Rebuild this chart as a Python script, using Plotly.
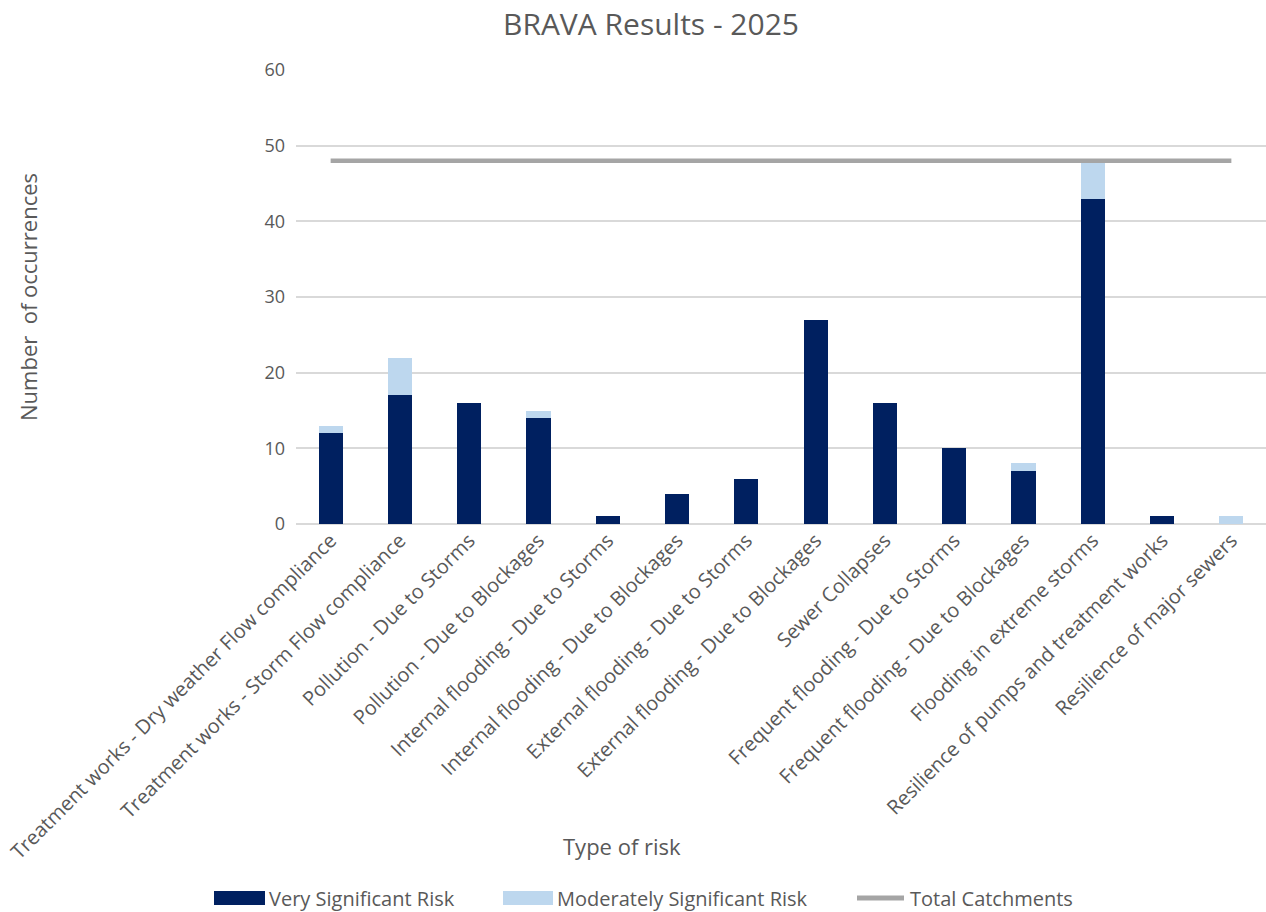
import plotly.graph_objects as go

categories = [
    "Treatment works - Dry weather Flow compliance",
    "Treatment works - Storm Flow compliance",
    "Pollution - Due to Storms",
    "Pollution - Due to Blockages",
    "Internal flooding - Due to Storms",
    "Internal flooding - Due to Blockages",
    "External flooding - Due to Storms",
    "External flooding - Due to Blockages",
    "Sewer Collapses",
    "Frequent flooding - Due to Storms",
    "Frequent flooding - Due to Blockages",
    "Flooding in extreme storms",
    "Resilience of pumps and treatment works",
    "Resilience of major sewers",
]
very_significant = [12, 17, 16, 14, 1, 4, 6, 27, 16, 10, 7, 43, 1, 0]
moderately_significant = [1, 5, 0, 1, 0, 0, 0, 0, 0, 0, 1, 5, 0, 1]
total_catchments = [48] * len(categories)

series_names = ["Very Significant Risk", "Moderately Significant Risk", "Total Catchments"]
series_colors = ["#002060", "#BDD7EE", "#A5A5A5"]

FONT = "Open Sans"
TXT = "#595959"

W, H = 1266, 912
L, T = 296, 70
PW, PH = 970, 454

fig = go.Figure()
fig.add_trace(go.Bar(x=categories, y=very_significant, name=series_names[0],
                     marker=dict(color=series_colors[0], line=dict(width=0)), width=0.35,
                     showlegend=False))
fig.add_trace(go.Bar(x=categories, y=moderately_significant, name=series_names[1],
                     marker=dict(color=series_colors[1], line=dict(width=0)), width=0.35,
                     showlegend=False))
fig.add_trace(go.Scatter(x=categories, y=total_catchments, name=series_names[2],
                         mode="lines", line=dict(color=series_colors[2], width=4.5),
                         showlegend=False))

def px_x(p):
    return (p - L) / PW

def px_y(p):
    return (T + PH - p) / PH

# custom legend (wide swatches like the original)
shapes = []
annotations = []
leg_y = 898
leg_items = [(214, 265, "rect"), (503, 553, "rect"), (855, 906, "line")]
for (x0, x1, kind), name, col in zip(leg_items, series_names, series_colors):
    if kind == "rect":
        shapes.append(dict(type="rect", xref="paper", yref="paper",
                           x0=px_x(x0), x1=px_x(x1), y0=px_y(leg_y + 7), y1=px_y(leg_y - 7),
                           fillcolor=col, line=dict(width=0)))
    else:
        shapes.append(dict(type="line", xref="paper", yref="paper",
                           x0=px_x(x0 + 2), x1=px_x(x1 - 2), y0=px_y(leg_y), y1=px_y(leg_y),
                           line=dict(color=col, width=5)))
    annotations.append(dict(text=name, xref="paper", yref="paper", x=px_x(x1 + 2), y=px_y(leg_y),
                            xanchor="left", yanchor="middle", showarrow=False,
                            font=dict(size=20, color=TXT)))

annotations += [
    dict(text="Number  of occurrences", xref="paper", yref="paper",
         x=px_x(28), y=px_y(297), textangle=-90,
         showarrow=False, font=dict(size=22, color=TXT), xanchor="center", yanchor="middle"),
    dict(text="Type of risk", xref="paper", yref="paper",
         x=px_x(622), y=px_y(846),
         showarrow=False, font=dict(size=22, color=TXT), xanchor="center", yanchor="middle"),
]

fig.update_layout(
    barmode="stack",
    width=W, height=H,
    paper_bgcolor="white", plot_bgcolor="white",
    margin=dict(l=L, r=W - L - PW, t=T, b=H - T - PH, autoexpand=False),
    font=dict(family=FONT, color=TXT, size=16),
    title=dict(text="BRAVA Results - 2025", x=651 / W, xanchor="center",
               y=1 - 24 / H, yanchor="middle",
               font=dict(size=30, color=TXT, family=FONT)),
    showlegend=False,
    xaxis=dict(tickangle=-45, tickfont=dict(size=20, color=TXT), showgrid=False,
               showline=False, ticks="", automargin=False),
    yaxis=dict(range=[0, 60], dtick=10, tickfont=dict(size=18, color=TXT),
               gridcolor="#D9D9D9", gridwidth=1.5, zeroline=True, zerolinecolor="#D9D9D9",
               zerolinewidth=1.5, showline=False, ticks="", ticklabelstandoff=10,
               automargin=False),
    shapes=shapes,
    annotations=annotations,
)

fig.write_html("out.html", config={"displayModeBar": False},
               post_script="document.body.style.margin='0';")
